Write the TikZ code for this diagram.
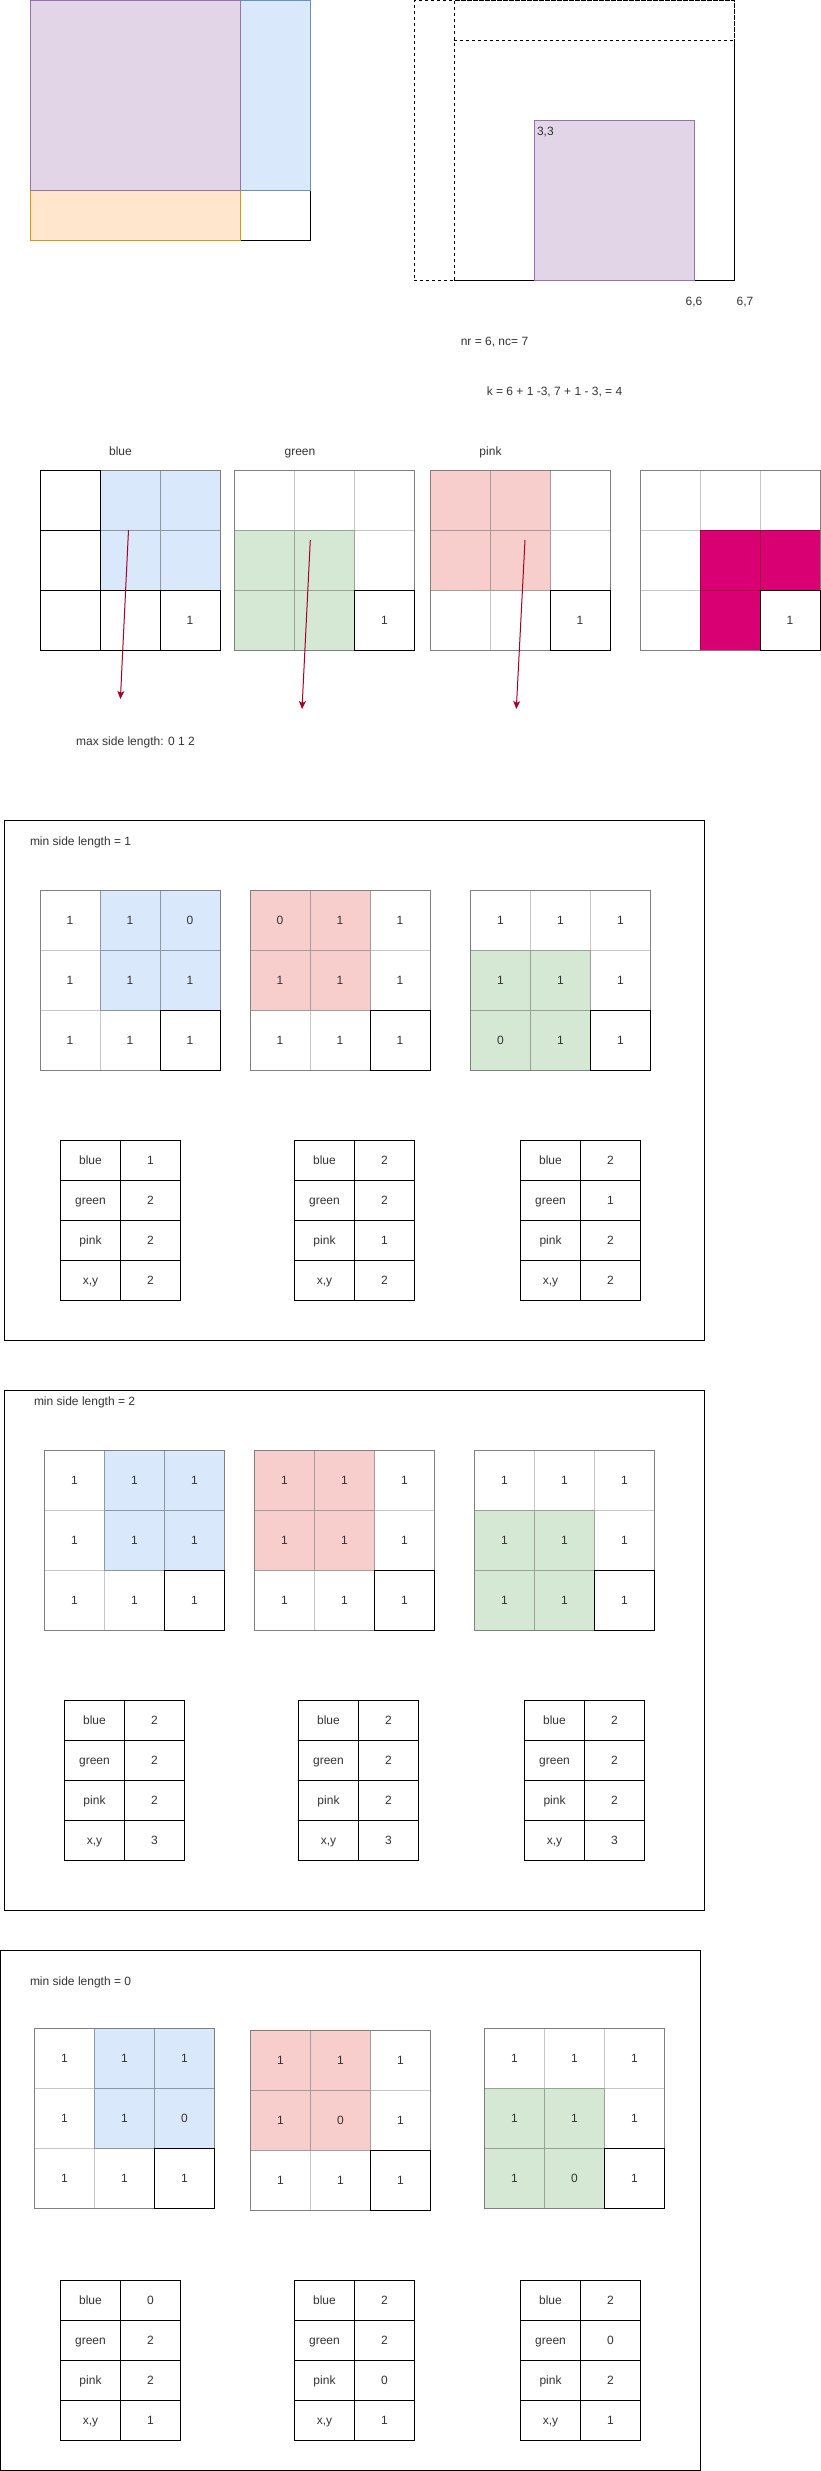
\documentclass[tikz,border=0pt]{standalone}
\usepackage{fontspec}
\setmainfont{Liberation Sans}
\usetikzlibrary{arrows.meta}
\definecolor{cb}{HTML}{DAE8FC}
\definecolor{db}{HTML}{8E97A3}
\definecolor{dbo}{HTML}{6C8EBF}
\definecolor{cg}{HTML}{D5E8D4}
\definecolor{dg}{HTML}{96A395}
\definecolor{cp}{HTML}{F8CECC}
\definecolor{dp}{HTML}{A89A9A}
\definecolor{cm}{HTML}{D80073}
\definecolor{dm}{HTML}{A50040}
\definecolor{cpu}{HTML}{E1D5E7}
\definecolor{dpu}{HTML}{9673A6}
\definecolor{cor}{HTML}{FFE6CC}
\definecolor{dor}{HTML}{D79B00}
\definecolor{lw}{HTML}{C6C6C6}
\definecolor{fr}{HTML}{7F7F7F}
\definecolor{txt}{HTML}{333333}
\definecolor{arr}{HTML}{A20025}

\tikzset{
  base/.style={inner sep=0pt, outer sep=0pt, font=\fontsize{12}{14}\selectfont, text=txt, text height=8.6pt, text depth=0pt},
  cell/.style={base, rectangle, minimum width=60pt, minimum height=60pt},
  gframe/.style={rectangle, draw=fr, inner sep=0pt, outer sep=0pt, minimum width=180pt, minimum height=180pt},
  tcell/.style={base, rectangle, draw=black, fill=white, minimum width=60pt, minimum height=40pt},
  rbox/.style={rectangle, inner sep=0pt, outer sep=0pt, anchor=north west},
  lbl/.style={base},
  bigbox/.style={rectangle, draw=black, inner sep=0pt, outer sep=0pt, anchor=north west, minimum width=700pt, minimum height=520pt},
  redarrow/.style={draw=arr, line width=1pt, -{Stealth[length=8pt,width=7pt,inset=2pt]}},
}

\newcommand\mkgrid[5]{%
  \foreach \gr/\gc/\gf/\gd/\gv in {#4} {
    \node[cell, fill=\gf, draw=\gd] (#1-\gr\gc) at ({#2+30+60*\gc},{#3+30+60*\gr}) {\gv};
  }
  \node[gframe] (#1-frame) at ({#2+90},{#3+90}) {};
  \foreach \gr/\gc/\gv in {#5} {
    \node[cell, fill=white, draw=black] (#1-\gr\gc) at ({#2+30+60*\gc},{#3+30+60*\gr}) {\gv};
  }
}

\newcommand\mktable[7]{%
  \node[tcell] (#1-l0) at ({#2+30},{#3+20}) {blue};
  \node[tcell] (#1-v0) at ({#2+90},{#3+20}) {#4};
  \node[tcell] (#1-l1) at ({#2+30},{#3+60}) {green};
  \node[tcell] (#1-v1) at ({#2+90},{#3+60}) {#5};
  \node[tcell] (#1-l2) at ({#2+30},{#3+100}) {pink};
  \node[tcell] (#1-v2) at ({#2+90},{#3+100}) {#6};
  \node[tcell] (#1-l3) at ({#2+30},{#3+140}) {x,y};
  \node[tcell] (#1-v3) at ({#2+90},{#3+140}) {#7};
}

\begin{document}
\begin{tikzpicture}[x=1pt, y=-1pt, line width=1pt]
\useasboundingbox (0,0) rectangle (821,2471);
\fill[white] (0,0) rectangle (821,2471);

% ---------- top left ----------
\node[rbox, draw=black, fill=white, minimum width=70pt, minimum height=50pt] (tl-white) at (240,190) {};
\node[rbox, draw=dor, fill=cor, minimum width=210pt, minimum height=50pt] (tl-orange) at (30,190) {};
\node[rbox, draw=dbo, fill=cb, minimum width=70pt, minimum height=189.5pt] (tl-blue) at (240,0.5) {};
\node[rbox, draw=dpu, fill=cpu, minimum width=210pt, minimum height=189.5pt] (tl-purple) at (30,0.5) {};

% ---------- top right ----------
\node[rbox, draw=black, dash pattern=on 3pt off 3pt, minimum width=320pt, minimum height=279.5pt] (pad) at (414,0.5) {};
\node[rbox, draw=black, dash pattern=on 3pt off 3pt, minimum width=280pt, minimum height=279.5pt] (padcol) at (454,0.5) {};
\node[rbox, draw=black, dash pattern=on 3pt off 3pt, minimum width=280pt, minimum height=39.5pt] (padrow) at (454,0.5) {};
\draw[black] (734,40) -- (734,280) -- (454,280);
\node[rbox, draw=dpu, fill=cpu, minimum width=160pt, minimum height=160pt] (sq) at (534,120) {};
\node[lbl, anchor=west] (l33) at (537,131) {3,3};
\node[lbl] (l66) at (694,301) {6,6};
\node[lbl] (l67) at (745,301) {6,7};
\node[lbl] (lnr) at (494.5,341) {nr = 6, nc= 7};
\node[lbl] (lk) at (554.5,391) {k = 6 + 1 -3, 7 + 1 - 3, = 4};

% ---------- middle grids ----------
\node[lbl] (hblue) at (120.5,451) {blue};
\node[lbl] (hgreen) at (300,451) {green};
\node[lbl] (hpink) at (490.5,451) {pink};

\mkgrid{m1}{40}{470}{0/1/cb/db/{}, 0/2/cb/db/{}, 1/1/cb/db/{}, 1/2/cb/db/{}}{0/0/{}, 1/0/{}, 2/0/{}, 2/1/{}, 2/2/1}
\mkgrid{m2}{234.5}{470}{0/0/white/lw/{}, 0/1/white/lw/{}, 0/2/white/lw/{}, 1/2/white/lw/{}, 1/0/cg/dg/{}, 1/1/cg/dg/{}, 2/0/cg/dg/{}, 2/1/cg/dg/{}}{2/2/1}
\mkgrid{m3}{430}{470}{0/2/white/lw/{}, 1/2/white/lw/{}, 2/0/white/lw/{}, 2/1/white/lw/{}, 0/0/cp/dp/{}, 0/1/cp/dp/{}, 1/0/cp/dp/{}, 1/1/cp/dp/{}}{2/2/1}
\mkgrid{m4}{640}{470}{0/0/white/lw/{}, 0/1/white/lw/{}, 0/2/white/lw/{}, 1/0/white/lw/{}, 2/0/white/lw/{}, 1/1/cm/dm/{}, 1/2/cm/dm/{}, 2/1/cm/dm/{}}{2/2/1}

\coordinate (a1s) at (128.5,530);
\coordinate (a1e) at (120.4,699);
\coordinate (a2s) at (310.3,540);
\coordinate (a2e) at (302,709);
\coordinate (a3s) at (525,540);
\coordinate (a3e) at (516.3,709);
\draw[redarrow] (a1s) -- (a1e);
\draw[redarrow] (a2s) -- (a2e);
\draw[redarrow] (a3s) -- (a3e);

\node[lbl] (lmax) at (135.5,741) {max side length: 0 1 2};

% ---------- box 1 ----------
\node[bigbox] (box1) at (4.5,820) {};
\node[lbl, anchor=west] (title1) at (30,841) {min side length = 1};
\mkgrid{b1a}{40}{890}{0/0/white/lw/1, 1/0/white/lw/1, 2/0/white/lw/1, 2/1/white/lw/1, 0/1/cb/db/1, 0/2/cb/db/0, 1/1/cb/db/1, 1/2/cb/db/1}{2/2/1}
\mkgrid{b1b}{250}{890}{0/2/white/lw/1, 1/2/white/lw/1, 2/0/white/lw/1, 2/1/white/lw/1, 0/0/cp/dp/0, 0/1/cp/dp/1, 1/0/cp/dp/1, 1/1/cp/dp/1}{2/2/1}
\mkgrid{b1c}{470.5}{890}{0/0/white/lw/1, 0/1/white/lw/1, 0/2/white/lw/1, 1/2/white/lw/1, 1/0/cg/dg/1, 1/1/cg/dg/1, 2/0/cg/dg/0, 2/1/cg/dg/1}{2/2/1}
\mktable{t1a}{60.5}{1140}{1}{2}{2}{2}
\mktable{t1b}{294.5}{1140}{2}{2}{1}{2}
\mktable{t1c}{520.5}{1140}{2}{1}{2}{2}

% ---------- box 2 ----------
\node[bigbox] (box2) at (4.5,1390) {};
\node[lbl, anchor=west] (title2) at (34,1401) {min side length = 2};
\mkgrid{b2a}{44.5}{1450}{0/0/white/lw/1, 1/0/white/lw/1, 2/0/white/lw/1, 2/1/white/lw/1, 0/1/cb/db/1, 0/2/cb/db/1, 1/1/cb/db/1, 1/2/cb/db/1}{2/2/1}
\mkgrid{b2b}{254.5}{1450}{0/2/white/lw/1, 1/2/white/lw/1, 2/0/white/lw/1, 2/1/white/lw/1, 0/0/cp/dp/1, 0/1/cp/dp/1, 1/0/cp/dp/1, 1/1/cp/dp/1}{2/2/1}
\mkgrid{b2c}{474.5}{1450}{0/0/white/lw/1, 0/1/white/lw/1, 0/2/white/lw/1, 1/2/white/lw/1, 1/0/cg/dg/1, 1/1/cg/dg/1, 2/0/cg/dg/1, 2/1/cg/dg/1}{2/2/1}
\mktable{t2a}{64.5}{1700}{2}{2}{2}{3}
\mktable{t2b}{298.5}{1700}{2}{2}{2}{3}
\mktable{t2c}{524.5}{1700}{2}{2}{2}{3}

% ---------- box 3 ----------
\node[bigbox, minimum width=699.5pt, minimum height=519.5pt] (box3) at (0.5,1950.5) {};
\node[lbl, anchor=west] (title3) at (30,1981) {min side length = 0};
\mkgrid{b3a}{34.5}{2028}{0/0/white/lw/1, 1/0/white/lw/1, 2/0/white/lw/1, 2/1/white/lw/1, 0/1/cb/db/1, 0/2/cb/db/1, 1/1/cb/db/1, 1/2/cb/db/0}{2/2/1}
\mkgrid{b3b}{250.5}{2030}{0/2/white/lw/1, 1/2/white/lw/1, 2/0/white/lw/1, 2/1/white/lw/1, 0/0/cp/dp/1, 0/1/cp/dp/1, 1/0/cp/dp/1, 1/1/cp/dp/0}{2/2/1}
\mkgrid{b3c}{484.5}{2028}{0/0/white/lw/1, 0/1/white/lw/1, 0/2/white/lw/1, 1/2/white/lw/1, 1/0/cg/dg/1, 1/1/cg/dg/1, 2/0/cg/dg/1, 2/1/cg/dg/0}{2/2/1}
\mktable{t3a}{60.5}{2280}{0}{2}{2}{1}
\mktable{t3b}{294.5}{2280}{2}{2}{0}{1}
\mktable{t3c}{520.5}{2280}{2}{0}{2}{1}
\end{tikzpicture}
\end{document}
